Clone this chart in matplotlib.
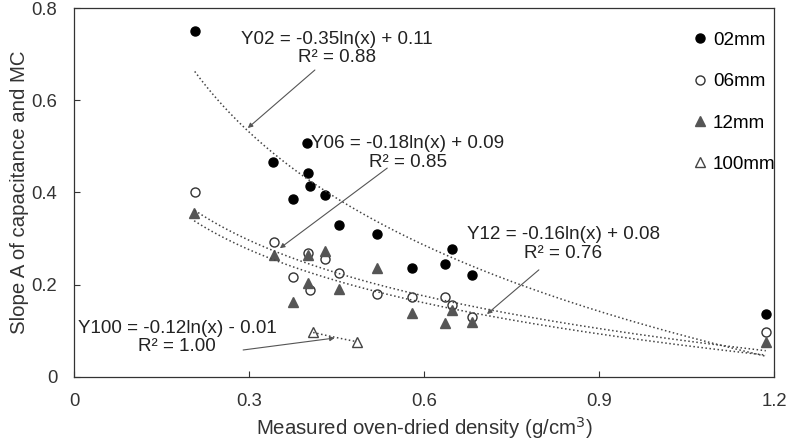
import numpy as np
import matplotlib.pyplot as plt

plt.rcParams['font.family'] = ['Liberation Sans', 'DejaVu Sans']

# data
x02 = [0.207, 0.342, 0.375, 0.399, 0.402, 0.405, 0.431, 0.455, 0.519, 0.579, 0.636, 0.648, 0.683, 1.186]
y02 = [0.751, 0.467, 0.385, 0.507, 0.443, 0.414, 0.395, 0.329, 0.309, 0.235, 0.244, 0.277, 0.221, 0.137]
x06 = [0.207, 0.343, 0.375, 0.401, 0.405, 0.430, 0.455, 0.519, 0.579, 0.636, 0.648, 0.683, 1.186]
y06 = [0.400, 0.293, 0.217, 0.269, 0.188, 0.255, 0.226, 0.180, 0.172, 0.174, 0.156, 0.129, 0.098]
x12 = [0.206, 0.343, 0.375, 0.401, 0.401, 0.430, 0.455, 0.519, 0.579, 0.636, 0.648, 0.683, 1.186]
y12 = [0.356, 0.264, 0.163, 0.264, 0.204, 0.274, 0.190, 0.235, 0.138, 0.116, 0.145, 0.119, 0.076]
x100 = [0.410, 0.485]
y100 = [0.096, 0.076]

eq02 = "Y02 = -0.35ln(x) + 0.11\nR\u00b2 = 0.88"
eq06 = "Y06 = -0.18ln(x) + 0.09\nR\u00b2 = 0.85"
eq12 = "Y12 = -0.16ln(x) + 0.08\nR\u00b2 = 0.76"
eq100 = "Y100 = -0.12ln(x) - 0.01\nR\u00b2 = 1.00"


def log_trend(ax, x, y):
    # excel style logarithmic trendline over the data range
    a, b = np.polyfit(np.log(x), y, 1)
    xs = np.linspace(min(x), max(x), 200)
    ax.plot(xs, a * np.log(xs) + b, linestyle=':', color='#444444', linewidth=1.1)


fig = plt.figure(figsize=(7.86, 4.46), dpi=100)
ax = fig.add_axes([0.0941, 0.1554, 0.8906, 0.826])

ax.plot(x02, y02, 'o', ms=6.5, mfc='black', mec='black', label='02mm')
ax.plot(x06, y06, 'o', ms=6.5, mfc='white', mec='#333333', mew=1, label='06mm')
ax.plot(x12, y12, '^', ms=7, mfc='#555555', mec='#555555', label='12mm')
ax.plot(x100, y100, '^', ms=6.5, mfc='white', mec='#444444', mew=1, label='100mm')

for xx, yy in [(x02, y02), (x06, y06), (x12, y12), (x100, y100)]:
    log_trend(ax, xx, yy)

# equation labels, each with its own pointer arrow
afs = 13.6
arrow = dict(arrowstyle='-|>', color='#555555', lw=0.8, mutation_scale=7, shrinkA=0, shrinkB=0)
labels = [
    (eq02, (0.451, 0.713), (0.413, 0.666), (0.298, 0.540)),
    (eq06, (0.572, 0.486), (0.537, 0.453), (0.353, 0.279)),
    (eq12, (0.839, 0.288), (0.797, 0.232), (0.708, 0.136)),
    (eq100, (0.177, 0.085), (0.290, 0.058), (0.447, 0.084)),
]
for txt, pos, tail, head in labels:
    ax.text(pos[0], pos[1], txt, ha='center', va='center', fontsize=afs,
            linespacing=1.1, color='#222222')
    ax.annotate('', xy=head, xytext=tail, arrowprops=arrow)

ax.set_xlim(0, 1.2)
ax.set_ylim(0, 0.8)
ax.set_xticks([0, 0.3, 0.6, 0.9, 1.2])
ax.set_xticklabels(['0', '0.3', '0.6', '0.9', '1.2'])
ax.set_yticks([0, 0.2, 0.4, 0.6, 0.8])
ax.set_yticklabels(['0', '0.2', '0.4', '0.6', '0.8'])
ax.tick_params(direction='in', length=4, width=0.8, labelsize=13.3, colors='#333333')
ax.tick_params(axis='x', pad=11.5)
ax.tick_params(axis='y', pad=12)
for s in ax.spines.values():
    s.set_color('#333333')
    s.set_linewidth(0.9)

ax.set_xlabel('Measured oven-dried density (g/cm$^3$)', fontsize=14.7, color='#333333', labelpad=4)
ax.set_ylabel('Slope A of capacitance and MC', fontsize=14.7, color='#333333', labelpad=2)

ax.legend(loc='upper left', bbox_to_anchor=(0.8712, 0.9462), bbox_transform=fig.transFigure,
          frameon=False, fontsize=afs, labelspacing=1.28, handletextpad=0.3,
          handlelength=0.8, borderaxespad=0)

fig.savefig('out.png', dpi=100)
